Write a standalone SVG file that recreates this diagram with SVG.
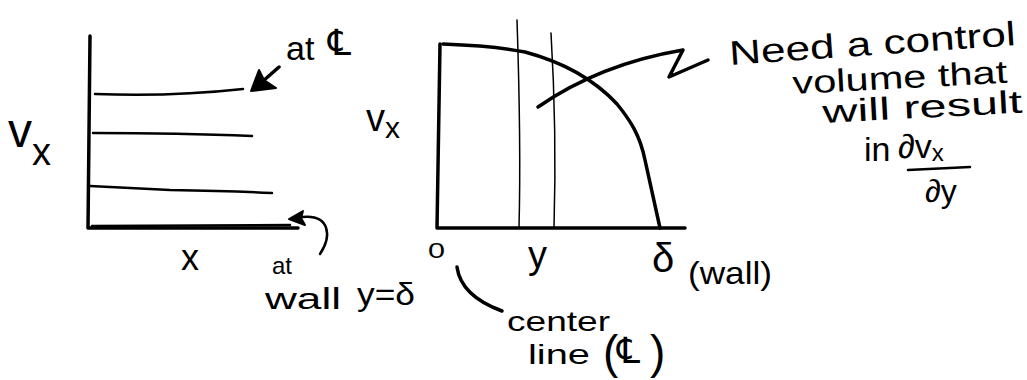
<svg xmlns="http://www.w3.org/2000/svg" width="1027" height="380" viewBox="0 0 1027 380">
<style>
.t{font-family:"Liberation Sans","DejaVu Sans",sans-serif;fill:#000}
.cl{font-family:"DejaVu Sans","Noto Sans",sans-serif;fill:#000}
.s{fill:none;stroke:#000;stroke-linecap:round;stroke-linejoin:round}
.th{stroke-width:3.5}
.md{stroke-width:2.5}
.tn{stroke-width:1.5}
.ah{fill:#000;stroke:#000;stroke-width:2;stroke-linejoin:round}
</style>
<rect width="1027" height="380" fill="#fff"/>

<g id="left-plot">
  <path class="s th" d="M90,36 L88,228 L298,228"/>
  <path class="s md" d="M92,226 L290,225"/>
  <path class="s md" d="M95,94 Q170,97 243,89"/>
  <path class="s md" d="M93,133 Q180,133 252,136"/>
  <path class="s md" d="M90,186 Q130,188 170,190 Q230,191 272,193"/>
  <text class="t" x="8" y="147" font-size="48">v<tspan font-size="38" dy="18">x</tspan></text>
  <text class="t" x="181" y="270" font-size="36">x</text>
</g>

<g id="label-at-cl">
  <path class="s th" d="M279,67 L254,89"/>
  <path class="ah" d="M251,91 L259,70 L264,80 L276,88 Z"/>
  <text class="t" x="286" y="60" font-size="34">at</text>
  <text class="cl" x="328" y="55" font-size="36">℄</text>
</g>

<g id="label-at-wall">
  <path class="s md" d="M320,254 C332,236 330,214 302,217"/>
  <path class="ah" d="M289,219 L303,211 L301,218 L305,225 Z"/>
  <text class="t" x="272" y="274" font-size="24">at</text>
  <text class="t" x="265" y="309" font-size="30" textLength="76" lengthAdjust="spacingAndGlyphs">wall</text>
  <text class="t" x="357" y="305" font-size="32" textLength="58" lengthAdjust="spacingAndGlyphs">y=δ</text>
</g>

<g id="mid-plot">
  <path class="s th" d="M440,44 L437,228 L685,228"/>
  <path class="s th" d="M443,44 C470,45 500,47 525,52 C555,60 590,75 617,104 C630,120 640,135 645,160 L660,228"/>
  <path class="s tn" d="M517,20 C519,80 521,150 519,228"/>
  <path class="s tn" d="M551,33 C555,100 556,160 554,228"/>
  <text class="t" x="366" y="131" font-size="38">v<tspan font-size="30" dy="7">x</tspan></text>
  <text class="t" x="428" y="258" font-size="22" textLength="17" lengthAdjust="spacingAndGlyphs">0</text>
  <text class="t" x="528" y="268" font-size="38">y</text>
  <text class="t" x="652" y="272" font-size="40">δ</text>
  <text class="t" x="688" y="284" font-size="32" textLength="84" lengthAdjust="spacingAndGlyphs">(wall)</text>
</g>

<g id="label-center-line">
  <path class="s th" d="M457,267 Q461,296 502,311"/>
  <text class="t" x="507" y="331" font-size="28" textLength="103" lengthAdjust="spacingAndGlyphs">center</text>
  <text class="t" x="528" y="364" font-size="28" textLength="62" lengthAdjust="spacingAndGlyphs">line</text>
  <text class="t" x="603" y="368" font-size="46">(</text>
  <text class="cl" x="617" y="363" font-size="36">℄</text>
  <text class="t" x="650" y="368" font-size="46">)</text>
</g>

<g id="label-control-volume">
  <path class="s th" d="M538,107 Q600,64 683,50 L669,77 L708,60"/>
  <g transform="rotate(-4 730 65)">
    <text class="t" x="730" y="65" font-size="34" textLength="287" lengthAdjust="spacingAndGlyphs">Need a control</text>
  </g>
  <g transform="rotate(-3 793 94)">
    <text class="t" x="793" y="94" font-size="32" textLength="215" lengthAdjust="spacingAndGlyphs">volume that</text>
  </g>
  <g transform="rotate(-3 823 123)">
    <text class="t" x="823" y="123" font-size="32" textLength="200" lengthAdjust="spacingAndGlyphs">will result</text>
  </g>
  <text class="t" x="864" y="161" font-size="34">in</text>
  <text class="t" x="898" y="158" font-size="34">∂v<tspan font-size="24" dy="3">x</tspan></text>
  <path class="s md" d="M908,170 L970,167"/>
  <text class="t" x="925" y="202" font-size="32">∂y</text>
</g>
</svg>
